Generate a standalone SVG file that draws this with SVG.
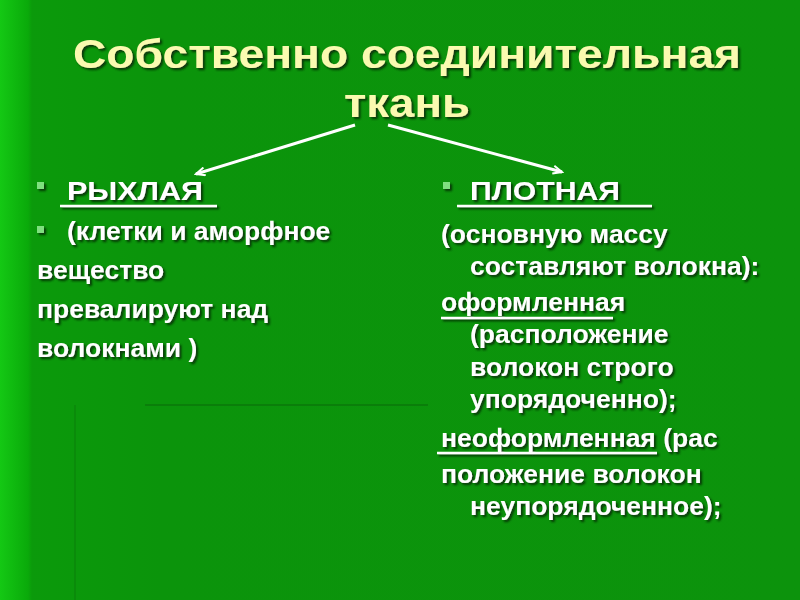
<svg xmlns="http://www.w3.org/2000/svg" width="800" height="600" viewBox="0 0 800 600">
<defs>
<linearGradient id="bg" x1="0" y1="0" x2="1" y2="0">
<stop offset="0" stop-color="#14c814"/>
<stop offset="0.035" stop-color="#0aaa0a"/>
<stop offset="0.04" stop-color="#0b9a0b"/>
<stop offset="0.2" stop-color="#0b940b"/>
<stop offset="1" stop-color="#0c930c"/>
</linearGradient>
<filter id="sh" x="-5%" y="-20%" width="110%" height="140%">
<feGaussianBlur in="SourceAlpha" stdDeviation="0.8"/>
<feOffset dx="2" dy="2" result="o"/>
<feFlood flood-color="#0a2a0a" flood-opacity="0.9"/>
<feComposite in2="o" operator="in"/>
<feMerge><feMergeNode/><feMergeNode in="SourceGraphic"/></feMerge>
</filter>
<marker id="ah" markerWidth="12" markerHeight="10" refX="10" refY="5" orient="auto" markerUnits="userSpaceOnUse">
<path d="M1,1 L10,5 L1,9" fill="none" stroke="#ffffff" stroke-width="2"/>
</marker>
<style>
.title{font-family:"Liberation Sans",Arial,sans-serif;font-weight:bold;font-size:41px;fill:#fafab0}
.t{font-family:"Liberation Sans",Arial,sans-serif;font-weight:bold;font-size:26.5px;fill:#ffffff}
.ul{stroke:#ffffff;stroke-width:2.5}
.bl{fill:#7fe07f}
.conn{stroke:#ffffff;stroke-width:3;fill:none}
</style>
</defs>
<rect x="0" y="0" width="800" height="600" fill="url(#bg)"/>
<line x1="145" y1="405" x2="428" y2="405" stroke="#0a6a0a" stroke-width="2" opacity="0.5"/>
<line x1="75" y1="405" x2="75" y2="600" stroke="#0a7a0a" stroke-width="2" opacity="0.4"/>

<g id="title" filter="url(#sh)">
<text class="title" x="407" y="68" text-anchor="middle" textLength="668" lengthAdjust="spacingAndGlyphs">Собственно соединительная</text>
<text class="title" x="407" y="117" text-anchor="middle" textLength="126" lengthAdjust="spacingAndGlyphs">ткань</text>
</g>

<g id="connectors">
<line class="conn" x1="355" y1="125" x2="196" y2="174" marker-end="url(#ah)"/>
<line class="conn" x1="388" y1="125" x2="562" y2="172" marker-end="url(#ah)"/>
</g>

<g id="loose" filter="url(#sh)">
<rect class="bl" x="37" y="182" width="7" height="7"/>
<text class="t" x="67" y="200" textLength="136" lengthAdjust="spacingAndGlyphs">РЫХЛАЯ</text>
<line class="ul" x1="60" y1="206" x2="217" y2="206"/>
<rect class="bl" x="37" y="226" width="7" height="7"/>
<text class="t" x="67" y="240">(клетки и аморфное</text>
<text class="t" x="37" y="279">вещество</text>
<text class="t" x="37" y="318">превалируют над</text>
<text class="t" x="37" y="357">волокнами )</text>
</g>

<g id="dense" filter="url(#sh)">
<rect class="bl" x="443" y="182" width="7" height="7"/>
<text class="t" x="470" y="200" textLength="150" lengthAdjust="spacingAndGlyphs">ПЛОТНАЯ</text>
<line class="ul" x1="457" y1="206" x2="652" y2="206"/>
<text class="t" x="441" y="243">(основную массу</text>
<text class="t" x="470" y="275">составляют волокна):</text>
<text class="t" x="441" y="311">оформленная</text>
<line class="ul" x1="441" y1="318" x2="613" y2="318"/>
<text class="t" x="470" y="343">(расположение</text>
<text class="t" x="470" y="376">волокон строго</text>
<text class="t" x="470" y="408">упорядоченно);</text>
<text class="t" x="441" y="447">неоформленная (рас</text>
<line class="ul" x1="437" y1="453" x2="657" y2="453"/>
<text class="t" x="441" y="483">положение волокон</text>
<text class="t" x="470" y="515">неупорядоченное);</text>
</g>
</svg>
